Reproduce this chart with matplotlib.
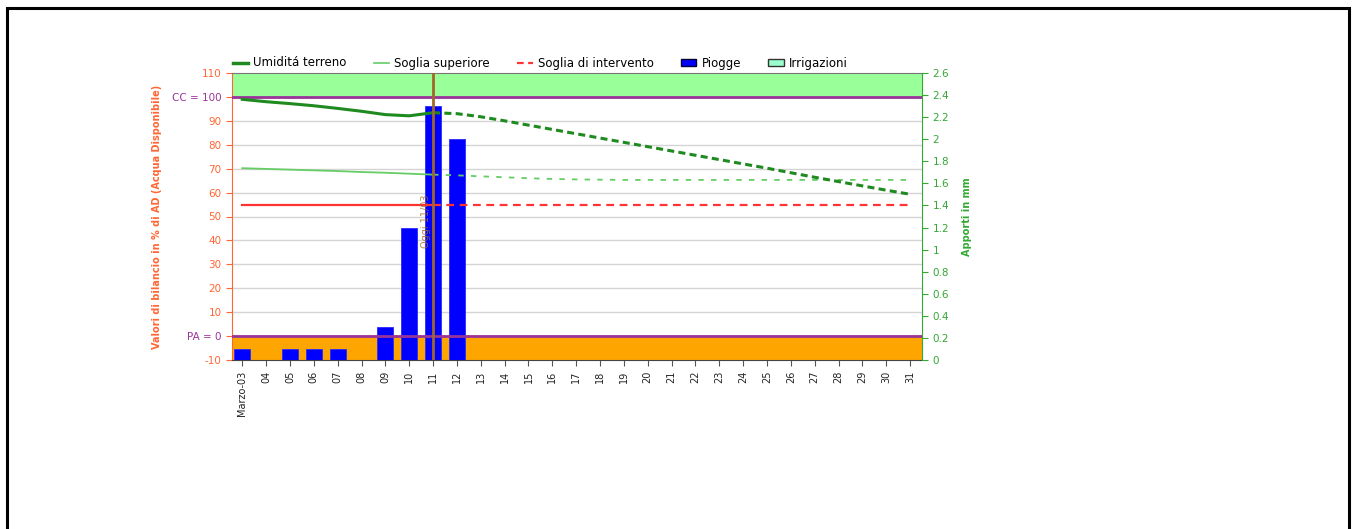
import matplotlib
matplotlib.use("Agg")
import matplotlib.pyplot as plt
from matplotlib.patches import Rectangle, Patch
from matplotlib.lines import Line2D
from matplotlib.ticker import FuncFormatter

# giorni di marzo
giorni = ['Marzo-03', '04', '05', '06', '07', '08', '09', '10', '11', '12',
          '13', '14', '15', '16', '17', '18', '19', '20', '21', '22', '23',
          '24', '25', '26', '27', '28', '29', '30', '31']

# bilancio idrico in % di AD
umidita = [99.0, 98.0, 97.2, 96.3, 95.2, 94.0, 92.6, 92.1, 93.4, 93.0,
           91.7, 90.0, 88.2, 86.4, 84.6, 82.8, 81.0, 79.2, 77.4, 75.6, 73.8,
           72.0, 70.2, 68.3, 66.4, 64.6, 62.8, 61.0, 59.3]
soglia_sup = [70.2, 69.9, 69.6, 69.3, 69.0, 68.6, 68.3, 67.9, 67.5, 67.2,
              66.8, 66.4, 66.0, 65.7, 65.5, 65.4, 65.3, 65.3, 65.3, 65.3, 65.3,
              65.3, 65.3, 65.3, 65.3, 65.3, 65.3, 65.3, 65.3]
soglia_int = [55] * 29

# apporti in mm
piogge = [0.1, 0, 0.1, 0.1, 0.1, 0, 0.3, 1.2, 2.3, 2.0,
          0, 0, 0, 0, 0, 0, 0, 0, 0, 0, 0,
          0, 0, 0, 0, 0, 0, 0, 0]

oggi = 8  # indice del giorno corrente (11 marzo)
cc, pa = 100, 0

ORANGE = '#ff6633'
PURPLE = '#993399'
DKGREEN = '#1f8a1f'
LTGREEN = '#66cc66'
RED = '#ff3333'
BROWN = '#a0672a'
RGREEN = '#33a833'

fig = plt.figure(figsize=(13.52, 5.29), dpi=100)
ax = fig.add_axes([232 / 1352, 1 - 360 / 529, 690 / 1352, 287 / 529])
ax2 = ax.twinx()
ax3 = ax.twinx()
ax2.set_zorder(ax.get_zorder() + 1)
ax3.set_zorder(ax.get_zorder() + 2)
ax2.patch.set_visible(False)
ax3.patch.set_visible(False)

x = list(range(len(giorni)))

# fondo: bande e griglia
ax.set_ylim(-10, 110)
ax.set_xlim(-0.43, len(giorni) - 0.5)
ax.axhspan(cc, 110, color='#99ff99', zorder=1)
ax.axhspan(-10, pa, color='#ffa500', zorder=1)
ax.yaxis.grid(True, color='#d4d4d4', linewidth=1, zorder=0)
ax.set_axisbelow(True)

# piogge (asse destro)
ax2.bar(x, piogge, width=0.68, color='#0000ff', edgecolor='#2a2aff', linewidth=0.6)
ax2.set_ylim(0, 2.6)

# linee (stessa scala dell'asse sinistro)
ax3.set_ylim(-10, 110)
ax3.axhline(cc, color=PURPLE, lw=2)
ax3.axhline(pa, color=PURPLE, lw=2)
ax3.plot(x[:oggi + 1], soglia_sup[:oggi + 1], color=LTGREEN, lw=1.3)
ax3.plot(x[oggi:], soglia_sup[oggi:], color=LTGREEN, lw=1.3, dashes=(3, 4))
ax3.plot(x[:oggi + 1], soglia_int[:oggi + 1], color=RED, lw=1.6)
ax3.plot(x[oggi:], soglia_int[oggi:], color=RED, lw=1.6, dashes=(3.5, 2.5))
ax3.plot(x[:oggi + 1], umidita[:oggi + 1], color=DKGREEN, lw=2.2)
ax3.plot(x[oggi:], umidita[oggi:], color=DKGREEN, lw=2.2, dashes=(2.3, 1.4))
ax3.axvline(oggi, color=BROWN, lw=2)
ax3.text(oggi - 0.28, 48, 'Oggi 11/03', rotation=90, color=BROWN, alpha=0.8,
         fontsize=7, ha='center', va='center')
ax3.set_yticks([])
for s in ax3.spines.values():
    s.set_visible(False)
ax3.tick_params(bottom=False, labelbottom=False)

# asse x
ax.set_xticks(x)
ax.set_xticklabels(giorni, rotation=90, fontsize=7, color='#222222')
ax.tick_params(axis='x', length=4, color='#555555')

# asse sinistro
yt = list(range(-10, 111, 10))
ax.set_yticks(yt)
ax.set_yticklabels(['CC = 100' if v == cc else 'PA = 0' if v == pa else str(v)
                    for v in yt], fontsize=7.5)
for lab, v in zip(ax.get_yticklabels(), yt):
    lab.set_color(PURPLE if v in (cc, pa) else ORANGE)
ax.tick_params(axis='y', length=4, color=ORANGE)
ax.set_ylabel('Valori di bilancio in % di AD (Acqua Disponibile)', color=ORANGE,
              fontsize=7, fontweight='bold', labelpad=7)

# asse destro
ax2.set_yticks([i / 10 for i in range(0, 27, 2)])
ax2.yaxis.set_major_formatter(FuncFormatter(lambda v, p: f'{v:g}'))
ax2.tick_params(axis='y', length=4, color=RGREEN, labelcolor=RGREEN, labelsize=7.5)
ax2.set_ylabel('Apporti in mm', color=RGREEN, fontsize=7, fontweight='bold', labelpad=9)

# spine
ax.spines['left'].set_color(ORANGE)
ax.spines['top'].set_color('#777777')
ax.spines['bottom'].set_color('#444444')
ax.spines['right'].set_visible(False)
ax2.spines['right'].set_color(RGREEN)
ax2.spines['left'].set_visible(False)
ax2.spines['top'].set_visible(False)
ax2.spines['bottom'].set_visible(False)

# legenda
handles = [
    Line2D([], [], color=DKGREEN, lw=2.5),
    Line2D([], [], color=LTGREEN, lw=1.2),
    Line2D([], [], color=RED, lw=1.6, dashes=(3, 2)),
    Patch(facecolor='#0000ff', edgecolor='#000033'),
    Patch(facecolor='#99ffcc', edgecolor='#333333'),
]
labels = ['Umiditá terreno', 'Soglia superiore', 'Soglia di intervento',
          'Piogge', 'Irrigazioni']
fig.legend(handles, labels, loc='center left', bbox_to_anchor=(222 / 1352, 1 - 63 / 529),
           ncol=5, frameon=False, fontsize=8.5, handlelength=1.3, handleheight=0.6,
           columnspacing=2.3, handletextpad=0.45)

# cornice
fig.patches.append(Rectangle((7 / 1352, -0.05), 1342 / 1352, 1.05 - 8 / 529,
                             transform=fig.transFigure, fill=False,
                             edgecolor='black', lw=2.2))

fig.savefig('out.png', dpi=100)
